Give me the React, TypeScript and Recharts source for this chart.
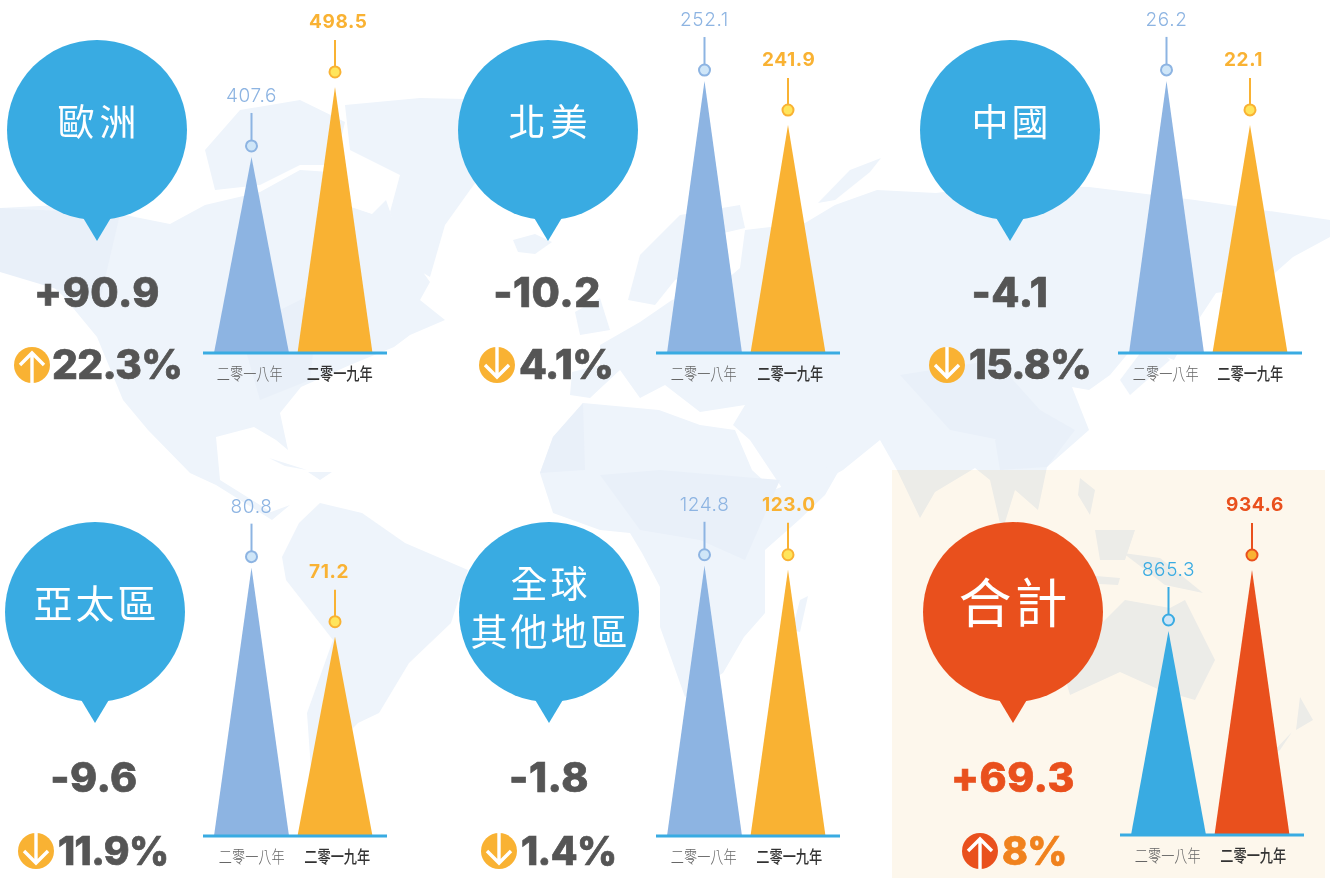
import { BarChart, Bar, XAxis, YAxis, LabelList } from 'recharts';

const regions = ['歐洲', '北美', '中國', '亞太區', '全球\n其他地區', '合計'];
const years = ['二零一八年', '二零一九年'];
const values2018 = [407.6, 252.1, 26.2, 80.8, 124.8, 865.3];
const values2019 = [498.5, 241.9, 22.1, 71.2, 123.0, 934.6];
const changes = ['+90.9', '-10.2', '-4.1', '-9.6', '-1.8', '+69.3'];
const percents = ['22.3%', '4.1%', '15.8%', '11.9%', '1.4%', '8%'];
const rising = [true, false, false, false, false, true];
// each small chart has its own truncated scale
const axisMin = [153.05, 189.05, 0.85, 43.5, 3.2, 633.5];
const axisMax = [542.6, 258.6, 28.8, 85.2, 138.2, 974.4];

// layout of the six blocks
const axisLeft = [203, 656, 1118, 203, 656, 1120];
const baseline = [353, 353, 353, 836, 836, 835];
const bubbleX = [97, 548, 1010, 95, 549, 1013];
const bubbleY = [130, 130, 130, 612, 612, 612];
const bubbleFont = [37, 37, 37, 39, 37, 53];
const bubbleGap = [5, 5, 3, 3, 3, 3];
const changeX = [97, 547, 1010, 94, 549, 1013];
const iconX = [32, 497, 947, 36, 499, 980];
const textX = [52, 519, 969, 58, 521, 1002];
const tickShift = [
	[-2, 4.5],
	[-1, 2],
	[-1, 0],
	[0, 2],
	[-1, 1],
	[-1, 1]
];

const BLUE = '#39abe2';
const LIGHT = '#8db4e2';
const AMBER = '#f9b233';
const RED = '#e9501d';
const GREY = '#555555';
const LATIN = 'Inter, "Noto Sans", sans-serif';
const CJK = '"Noto Sans CJK TC", sans-serif';

const PLOT_H = 300;

// rough outline of the land behind the charts
const land = [
	'M0,208 L60,205 L120,214 L170,224 L205,205 L260,192 L300,170 L330,172 L345,205 L372,214 L386,200 L400,240 L430,282 L420,300 L445,320 L410,335 L394,347 L350,365 L301,387 L280,413 L288,450 L276,440 L254,427 L216,437 L220,480 L271,512 L290,505 L272,520 L216,485 L190,473 L148,430 L123,400 L97,337 L64,297 L30,265 L0,272 Z',
	'M205,150 L240,110 L300,100 L345,122 L335,165 L300,165 L260,185 L215,190 Z',
	'M345,105 L420,98 L510,100 L500,150 L470,190 L445,225 L430,277 L405,262 L390,212 L400,175 L350,150 Z',
	'M513,240 L535,234 L552,242 L535,254 L518,252 Z',
	'M575,312 L600,298 L610,330 L580,335 Z',
	'M628,300 L640,255 L680,215 L740,205 L745,228 L715,235 L700,270 L675,280 L655,305 Z',
	'M570,395 L572,372 L600,365 L600,345 L640,322 L672,300 L720,285 L740,268 L745,230 L805,223 L835,205 L877,190 L936,193 L1000,185 L1089,187 L1195,200 L1330,220 L1330,237 L1293,257 L1259,287 L1216,293 L1185,340 L1174,360 L1135,345 L1110,375 L1089,390 L1072,387 L1089,430 L1047,467 L1038,510 L1015,490 L1002,532 L990,480 L975,468 L935,492 L920,518 L897,470 L880,440 L843,470 L790,500 L750,440 L733,425 L745,405 L700,412 L665,385 L640,398 L620,370 L590,398 Z',
	'M818,203 L850,170 L881,158 L870,172 L835,200 Z',
	'M583,403 L659,410 L700,425 L735,430 L752,470 L774,490 L845,460 L825,495 L799,520 L765,550 L765,613 L744,637 L723,673 L685,697 L660,627 L660,587 L642,553 L630,533 L600,530 L553,513 L540,473 L553,437 Z',
	'M800,600 L808,596 L800,632 L792,630 Z',
	'M320,503 L362,513 L405,543 L468,570 L451,623 L409,663 L379,713 L358,723 L311,770 L307,713 L333,640 L286,580 L282,557 L299,523 Z',
	'M269,458 L307,470 L285,466 Z',
	'M308,472 L332,472 L320,480 Z',
	'M1150,340 L1170,360 L1130,395 L1120,380 Z',
	'M1080,478 L1095,490 L1090,515 L1078,495 Z',
	'M1010,530 L1060,570 L1050,578 L1005,540 Z',
	'M1060,573 L1120,578 L1118,585 L1062,582 Z',
	'M1095,530 L1135,530 L1125,560 L1100,560 Z',
	'M1123,553 L1160,558 L1203,593 L1165,585 Z',
	'M1060,660 L1095,630 L1125,600 L1170,608 L1185,600 L1215,660 L1195,700 L1160,690 L1120,672 L1070,695 Z',
	'M1300,697 L1313,720 L1296,730 Z',
	'M1292,732 L1280,750 L1270,755 Z'
];

// slightly darker facets of the low-poly land
const facets = [
	'M900,375 L995,360 L1040,410 L1000,440 L950,430 Z',
	'M995,440 L1040,410 L1075,430 L1047,467 L1000,470 Z',
	'M540,473 L553,437 L583,403 L585,470 Z',
	'M600,475 L660,470 L780,480 L745,560 L700,540 L640,530 Z',
	'M0,208 L120,214 L100,300 L60,290 L0,272 Z',
	'M240,330 L320,290 L310,380 L260,400 Z'
];

const Triangle = (props: any) => {
	const { x, y, width, height, fill } = props;
	return <path d={`M${x},${y + height} L${x + width / 2},${y} L${x + width},${y + height} Z`} fill={fill} />;
};

const Marker = (props: any) => {
	const { x, y, width, value, index, total } = props;
	const cx = x + width / 2;
	const first = index === 0;
	const stroke = first ? (total ? BLUE : LIGHT) : total ? RED : AMBER;
	const fill = first ? '#cfe6f8' : total ? AMBER : '#ffe55c';
	const dotY = first ? y - 11 : y - 15;
	const stemTop = first ? y - 44 : y - 47;
	const textY = first ? y - 55 : y - 59;
	return (
		<g>
			<line x1={cx} x2={cx} y1={stemTop} y2={dotY} stroke={stroke} strokeWidth={2} />
			<circle cx={cx} cy={dotY} r={5.5} fill={fill} stroke={stroke} strokeWidth={2} />
			<text
				x={first ? cx : cx - 26}
				y={textY}
				textAnchor={first ? 'middle' : 'start'}
				fontFamily={LATIN}
				fontSize={19}
				fontWeight={first ? 300 : 700}
				letterSpacing={0.6}
				fill={stroke}
			>
				{Number(value).toFixed(1)}
			</text>
		</g>
	);
};

const YearTick = (props: any) => {
	const { x, y, payload, index, shift } = props;
	return (
		<text
			transform={`translate(${x + shift[index]},${y + 19}) scale(1,1.3)`}
			textAnchor='middle'
			fontFamily={CJK}
			fontSize={13.2}
			fontWeight={index === 0 ? 300 : 500}
			fill={index === 0 ? '#666666' : '#333333'}
		>
			{payload.value}
		</text>
	);
};

const Panel = ({ i }: { i: number }) => {
	const total = i === 5;
	const rows = years.map((year, k) => ({ year, value: k === 0 ? values2018[i] : values2019[i] }));
	const top = baseline[i] > 400 ? 478 : 0;
	const marginTop = baseline[i] - top - PLOT_H;
	const colors = total ? [BLUE, RED] : [LIGHT, AMBER];
	return (
		<div style={{ position: 'absolute', left: axisLeft[i], top }}>
			<BarChart
				width={184}
				height={marginTop + PLOT_H + 44}
				data={rows}
				margin={{ top: marginTop, right: 0, bottom: 0, left: 0 }}
				barCategoryGap={0}
			>
				<XAxis
					dataKey='year'
					height={44}
					interval={0}
					padding={{ left: 7, right: 10 }}
					axisLine={{ stroke: BLUE, strokeWidth: 3 }}
					tickLine={false}
					tick={<YearTick shift={tickShift[i]} />}
				/>
				<YAxis hide domain={[axisMin[i], axisMax[i]]} allowDataOverflow />
				<Bar
					dataKey='value'
					barSize={75}
					isAnimationActive={false}
					shape={(p: any) => <Triangle {...p} fill={colors[p.index]} />}
				>
					<LabelList dataKey='value' content={(p: any) => <Marker {...p} total={total} />} />
				</Bar>
			</BarChart>
		</div>
	);
};

const Bubble = ({ i }: { i: number }) => {
	const cx = bubbleX[i];
	const cy = bubbleY[i];
	const color = i === 5 ? RED : BLUE;
	const lines = regions[i].split('\n');
	const size = bubbleFont[i];
	const gap = bubbleGap[i];
	const firstBase = lines.length === 2 ? cy - 14 : cy + size * 0.32 - 6;
	return (
		<g>
			<circle cx={cx} cy={cy} r={90} fill={color} />
			<path d={`M${cx - 15},${cy + 86} L${cx},${cy + 111} L${cx + 15},${cy + 86} Z`} fill={color} />
			{lines.map((line, k) => (
				<text
					key={line}
					x={cx + gap / 2}
					y={firstBase + k * 48}
					textAnchor='middle'
					fontFamily={CJK}
					fontSize={size}
					letterSpacing={gap}
					fill='#ffffff'
				>
					{line}
				</text>
			))}
		</g>
	);
};

const Figures = ({ i }: { i: number }) => {
	const lower = i >= 3;
	const total = i === 5;
	const cy = lower ? 851 : 365;
	const cx = iconX[i];
	const dir = rising[i] ? -1 : 1;
	const ink = total ? RED : GREY;
	const pctInk = total ? '#f0821e' : GREY;
	return (
		<g>
			<text
				x={changeX[i]}
				y={lower ? 792 : 307}
				textAnchor='middle'
				fontFamily={LATIN}
				fontSize={41}
				fontWeight={800}
				letterSpacing={0.5}
				stroke={ink}
				strokeWidth={0.7}
				fill={ink}
			>
				{changes[i]}
			</text>
			<circle cx={cx} cy={cy} r={18} fill={total ? RED : AMBER} />
			<path
				d={`M${cx},${cy - dir * 18} L${cx},${cy + dir * 12} M${cx - 12},${cy} L${cx},${cy + dir * 12} L${cx + 12},${cy}`}
				fill='none'
				stroke='#ffffff'
				strokeWidth={3.4}
			/>
			<text
				x={textX[i]}
				y={lower ? 865 : 379}
				fontFamily={LATIN}
				fontSize={lower ? 39 : 40.5}
				fontWeight={800}
				letterSpacing={-0.6}
				stroke={pctInk}
				strokeWidth={0.7}
				fill={pctInk}
			>
				{percents[i]}
			</text>
		</g>
	);
};

export default function App() {
	return (
		<div style={{ position: 'absolute', left: 0, top: 0, width: 1330, height: 878, overflow: 'hidden', background: '#ffffff' }}>
			<svg width={1330} height={878} style={{ position: 'absolute', left: 0, top: 0 }}>
				{land.map((d) => (
					<path key={d} d={d} fill='#eef4fb' />
				))}
				{facets.map((d) => (
					<path key={d} d={d} fill='#e9f0f9' />
				))}
			</svg>
			<div
				style={{
					position: 'absolute',
					left: 892,
					top: 470,
					width: 433,
					height: 408,
					background: '#fdf7ec',
					mixBlendMode: 'multiply'
				}}
			/>
			<svg width={1330} height={878} style={{ position: 'absolute', left: 0, top: 0 }}>
				{regions.map((r, i) => (
					<g key={r}>
						<Bubble i={i} />
						<Figures i={i} />
					</g>
				))}
			</svg>
			{regions.map((r, i) => (
				<Panel key={r} i={i} />
			))}
		</div>
	);
}
